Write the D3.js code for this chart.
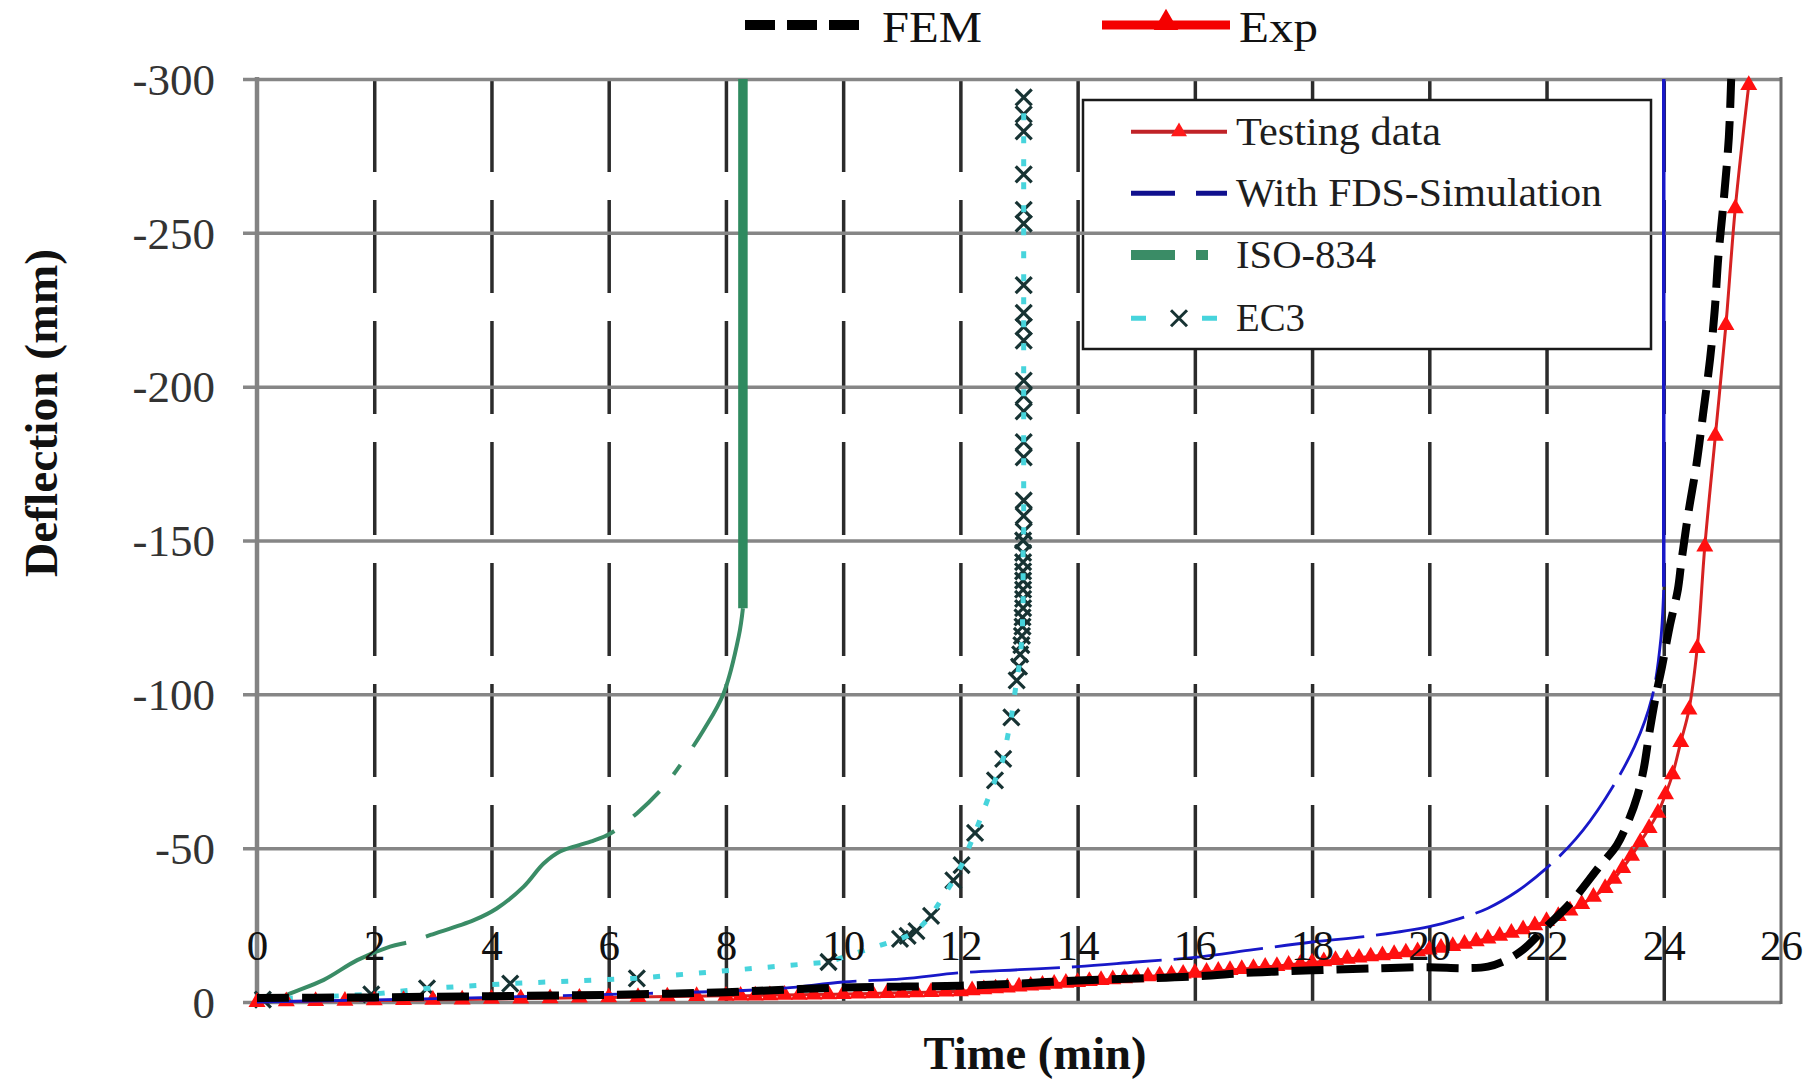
<!DOCTYPE html>
<html>
<head>
<meta charset="utf-8">
<script src="https://cdn.jsdelivr.net/npm/d3@7"></script>
<style>
html,body{margin:0;padding:0;background:#fff;}
svg{display:block;}
</style>
</head>
<body>
<svg id="chart" width="1816" height="1081"></svg>
<script>
// ---------------- data ----------------
const xTicks = [0, 2, 4, 6, 8, 10, 12, 14, 16, 18, 20, 22, 24, 26];
const yTicks = [0, -50, -100, -150, -200, -250, -300];
const xTitle = "Time (min)";
const yTitle = "Deflection (mm)";
const topLegendLabels = ["FEM", "Exp"];
const boxLegendLabels = ["Testing data", "With FDS-Simulation", "ISO-834", "EC3"];

// FEM (min, mm)
const femData = [
  [0, -1.3], [1, -1.4], [2, -1.5], [3, -1.7], [4, -1.9], [5, -2.1], [6, -2.3], [7, -2.7],
  [8, -3.2], [9, -4.0], [10, -4.7], [11, -5.0], [12, -5.3], [13, -6.0], [14, -7.0], [15, -7.6],
  [16, -8.3], [17, -9.6], [18, -10.3], [19, -10.9], [20, -11.3], [20.6, -11.0], [21, -11.5],
  [21.3, -13.5], [21.6, -17], [22, -24.5], [22.4, -32], [22.9, -44], [23.2, -51], [23.4, -59],
  [23.55, -67], [23.66, -76], [23.75, -87], [23.86, -99], [23.97, -109], [24.1, -122],
  [24.24, -134], [24.3, -143], [24.42, -159], [24.56, -175], [24.67, -191], [24.79, -209],
  [24.87, -225], [24.93, -242], [25.02, -260], [25.11, -281], [25.15, -300]
];

// Testing data (Exp)
const testData = [
  [0, 0], [0.5, -0.2], [1, -0.3], [1.5, -0.4], [2, -0.5], [2.5, -0.6], [3, -0.7], [3.5, -0.8],
  [4, -1.0], [4.5, -1.1], [5, -1.2], [5.5, -1.4], [6, -1.5], [6.5, -1.6], [7, -1.8], [7.5, -1.9],
  [8, -2.0], [8.25, -2.05], [8.5, -2.1], [8.75, -2.2], [9, -2.3], [9.25, -2.35], [9.5, -2.4],
  [9.75, -2.5], [10, -2.6], [10.25, -2.7], [10.5, -2.8], [10.75, -2.9], [11, -3.0], [11.25, -3.1],
  [11.5, -3.2], [11.75, -3.35], [12, -3.5], [12.2, -3.8], [12.4, -4.1], [12.6, -4.4], [12.8, -4.7],
  [13, -5.0], [13.2, -5.3], [13.4, -5.6], [13.6, -5.9], [13.8, -6.2], [14, -6.5], [14.2, -6.8],
  [14.4, -7.1], [14.6, -7.4], [14.8, -7.7], [15, -8.0], [15.2, -8.3], [15.4, -8.6], [15.6, -8.9],
  [15.8, -9.2], [16, -9.5], [16.2, -9.8], [16.4, -10.1], [16.6, -10.4], [16.8, -10.7], [17, -11.0],
  [17.2, -11.4], [17.4, -11.7], [17.6, -12.1], [17.8, -12.4], [18, -12.8], [18.2, -13.2],
  [18.4, -13.6], [18.6, -14.0], [18.8, -14.4], [19, -14.8], [19.2, -15.2], [19.4, -15.6],
  [19.6, -16.1], [19.8, -16.5], [20, -17.0], [20.2, -17.6], [20.4, -18.2], [20.6, -18.9],
  [20.8, -19.7], [21, -20.6], [21.2, -21.5], [21.4, -22.5], [21.6, -23.6], [21.8, -24.9],
  [22, -26.3], [22.2, -27.9], [22.4, -29.7], [22.6, -31.8], [22.8, -34.2], [23, -37.0],
  [23.15, -40], [23.3, -43.5], [23.45, -47.5], [23.6, -52], [23.75, -56.5], [23.9, -61.5],
  [24.03, -67.5], [24.15, -74], [24.29, -84.5], [24.43, -95], [24.57, -115], [24.7, -148],
  [24.88, -184], [25.06, -220], [25.22, -258], [25.45, -298]
];

// With FDS-Simulation (curve, then vertical run-away)
const fdsData = [
  [0, 0], [2, -0.7], [4, -1.5], [6, -2.5], [8, -3.5], [9, -4.5], [10, -6.5], [11, -7.5],
  [12, -9.5], [13, -10.5], [14, -11.5], [15, -13], [16, -14.5], [17, -17], [18, -19.5],
  [19, -21.5], [20, -24.5], [20.5, -27], [21, -30.5], [21.5, -36], [22, -43.5], [22.5, -53],
  [23, -66], [23.5, -83], [23.8, -99], [23.95, -118], [24.0, -135]
];
const fdsRunaway = [[24.0, -135], [24.0, -300]];

// ISO-834 (rising part) and its vertical run-away part
const isoData = [
  [0, 0], [0.3, -0.5], [0.57, -2.8], [1.14, -7.2], [1.71, -13.6], [2.27, -18], [2.62, -19.6],
  [2.96, -21.8], [3.7, -26.6], [4.09, -30.4], [4.55, -37.5], [4.89, -45], [5.17, -48.9],
  [5.69, -52.1], [6.03, -54.8], [6.48, -61.3], [6.94, -70], [7.28, -78.6], [7.62, -88.4],
  [7.96, -100.3], [8.22, -119], [8.29, -128]
];
const isoRunaway = [[8.29, -128], [8.29, -300]];

// EC3
const ec3Data = [
  [0.1, -0.8], [1.95, -2.5], [2.9, -4.4], [4.32, -6.0], [6.48, -7.7], [9.75, -13], [10.97, -20.5],
  [11.1, -21.5], [11.25, -23], [11.5, -28], [11.88, -39.5], [12.02, -44.5], [12.25, -55],
  [12.59, -72], [12.73, -79], [12.87, -92.5], [12.96, -104.5], [13.0, -109], [13.02, -113],
  [13.04, -116], [13.05, -119], [13.06, -122], [13.06, -125], [13.07, -128], [13.07, -131],
  [13.07, -134], [13.07, -137], [13.07, -140], [13.07, -143], [13.07, -146], [13.07, -150],
  [13.08, -153], [13.08, -158], [13.08, -163], [13.08, -177], [13.08, -182], [13.08, -192],
  [13.08, -197], [13.08, -202], [13.08, -215], [13.08, -219.5], [13.08, -224], [13.08, -233],
  [13.08, -253], [13.08, -257.5], [13.08, -269], [13.08, -283], [13.08, -288.5], [13.08, -294]
];

// ---------------- chart ----------------
const SERIF = "'Liberation Serif','Times New Roman',Times,serif";
const svg = d3.select("#chart");
const x = d3.scaleLinear().domain([0, 26]).range([257, 1781]);
const y = d3.scaleLinear().domain([0, -300]).range([1002, 79]);

// vertical dashed gridlines
const vGrid = svg.append("g")
  .attr("transform", `translate(0,${y(-300)})`)
  .call(d3.axisTop(x)
    .tickValues(xTicks.filter(d => d > 0 && d < 26))
    .tickSize(-(y(0) - y(-300)))
    .tickFormat(""));
vGrid.select(".domain").remove();
vGrid.selectAll(".tick line")
  .attr("stroke", "#2b2b2b")
  .attr("stroke-width", 3.5)
  .attr("stroke-dasharray", "93,28");

// legend box (white, hides vertical gridlines)
const lgX = 1083, lgY = 100, lgW = 568, lgH = 249;
svg.append("rect")
  .attr("x", lgX).attr("y", lgY).attr("width", lgW).attr("height", lgH)
  .attr("fill", "#fff").attr("stroke", "#1a1a1a").attr("stroke-width", 2.5);

// horizontal gridlines + y tick labels
const hGrid = svg.append("g")
  .attr("transform", `translate(${x(0)},0)`)
  .call(d3.axisLeft(y)
    .tickValues(yTicks)
    .tickSize(-(x(26) - x(0)))
    .tickFormat(d => String(d)));
hGrid.select(".domain").remove();
hGrid.selectAll(".tick line")
  .attr("x1", -14)
  .attr("stroke", "#868686")
  .attr("stroke-width", 3.5);
hGrid.selectAll(".tick text")
  .attr("x", -42)
  .attr("dy", "0.34em")
  .attr("fill", "#333")
  .style("font-family", SERIF)
  .style("font-size", "45px");

// plot borders (left axis, right border)
svg.append("line")
  .attr("x1", x(0)).attr("x2", x(0)).attr("y1", y(-300) - 2).attr("y2", y(0) + 2)
  .attr("stroke", "#838383").attr("stroke-width", 4.5);
svg.append("line")
  .attr("x1", x(26)).attr("x2", x(26)).attr("y1", y(-300) - 2).attr("y2", y(0) + 2)
  .attr("stroke", "#6a6a6a").attr("stroke-width", 3);

// ---- series ----
const line = d3.line().x(d => x(d[0])).y(d => y(d[1]));
const smooth = d3.line().x(d => x(d[0])).y(d => y(d[1])).curve(d3.curveCatmullRom.alpha(0.5));

// ISO-834
svg.append("path").datum(isoData)
  .attr("d", smooth)
  .attr("fill", "none").attr("stroke", "#3a8c66").attr("stroke-width", 4)
  .attr("stroke-dasharray", "162,21,220,24,36,22,12,22,700");
svg.append("path").datum(isoRunaway)
  .attr("d", line)
  .attr("fill", "none").attr("stroke", "#2f8a5f").attr("stroke-width", 9.5);

// EC3 markers + dotted line
const xMark = "M-8,-8L8,8M-8,8L8,-8";
svg.append("g").selectAll("path").data(ec3Data).join("path")
  .attr("transform", d => `translate(${x(d[0])},${y(d[1])})`)
  .attr("d", xMark)
  .attr("fill", "none").attr("stroke", "#173333").attr("stroke-width", 3.2);
svg.append("path").datum(ec3Data)
  .attr("d", line)
  .attr("fill", "none").attr("stroke", "#47d4dc").attr("stroke-width", 5)
  .attr("stroke-dasharray", "7,16");

// Testing data
svg.append("path").datum(testData)
  .attr("d", smooth)
  .attr("fill", "none").attr("stroke", "#d62222").attr("stroke-width", 3);
const tri = d3.symbol().type(d3.symbolTriangle).size(125);
svg.append("g").selectAll("path").data(testData).join("path")
  .attr("transform", d => `translate(${x(d[0])},${y(d[1])})`)
  .attr("d", tri)
  .attr("fill", "#ff1010");

// FDS simulation
svg.append("path").datum(fdsData)
  .attr("d", smooth)
  .attr("fill", "none").attr("stroke", "#1818c8").attr("stroke-width", 2.8)
  .attr("stroke-dasharray", "90,12");
svg.append("path").datum(fdsRunaway)
  .attr("d", line)
  .attr("fill", "none").attr("stroke", "#1818c8").attr("stroke-width", 3.5);

// FEM
svg.append("path").datum(femData)
  .attr("d", smooth)
  .attr("fill", "none").attr("stroke", "#000").attr("stroke-width", 8)
  .attr("stroke-dasharray", "32,13");

// x tick labels (inside the plot)
const xLab = svg.append("g")
  .attr("transform", "translate(0,960)")
  .call(d3.axisBottom(x).tickValues(xTicks).tickSize(0).tickPadding(0).tickFormat(d => String(d)));
xLab.select(".domain").remove();
xLab.selectAll(".tick text")
  .attr("y", 0).attr("dy", 0)
  .attr("fill", "#111")
  .style("font-family", SERIF)
  .style("font-size", "43px");

// ---- box legend ----
const rowY = [131.7, 193.3, 255, 318.3];
const sw0 = 1131, sw1 = 1227, swMid = 1179, txtX = 1236;
const lg = svg.append("g");
// Testing data
lg.append("line").attr("x1", sw0).attr("x2", sw1).attr("y1", rowY[0]).attr("y2", rowY[0])
  .attr("stroke", "#c02328").attr("stroke-width", 4);
lg.append("path").attr("transform", `translate(${swMid},${rowY[0]})`)
  .attr("d", d3.symbol().type(d3.symbolTriangle).size(110)).attr("fill", "#ff1a1a");
// FDS
lg.append("line").attr("x1", sw0).attr("x2", sw1).attr("y1", rowY[1]).attr("y2", rowY[1])
  .attr("stroke", "#10108e").attr("stroke-width", 5).attr("stroke-dasharray", "44,21");
// ISO
lg.append("line").attr("x1", sw0).attr("x2", sw1).attr("y1", rowY[2]).attr("y2", rowY[2])
  .attr("stroke", "#3a8c66").attr("stroke-width", 10).attr("stroke-dasharray", "44,21,12,100");
// EC3
lg.append("line").attr("x1", sw0).attr("x2", sw1).attr("y1", rowY[3]).attr("y2", rowY[3])
  .attr("stroke", "#47d4dc").attr("stroke-width", 5).attr("stroke-dasharray", "15,56,15,20");
lg.append("path").attr("transform", `translate(${swMid},${rowY[3]})`)
  .attr("d", "M-8,-8L8,8M-8,8L8,-8").attr("fill", "none").attr("stroke", "#173333").attr("stroke-width", 3);
const lgLens = [205, 366, 140, 69];
lg.selectAll("text").data(boxLegendLabels).join("text")
  .attr("x", txtX).attr("y", (d, i) => rowY[i] + 13)
  .attr("textLength", (d, i) => lgLens[i]).attr("lengthAdjust", "spacingAndGlyphs")
  .attr("fill", "#1e1e1e")
  .style("font-family", SERIF).style("font-size", "41px")
  .text(d => d);

// ---- top legend ----
const tl = svg.append("g");
tl.append("line").attr("x1", 745).attr("x2", 862).attr("y1", 25).attr("y2", 25)
  .attr("stroke", "#000").attr("stroke-width", 10).attr("stroke-dasharray", "30,12");
tl.append("line").attr("x1", 1102).attr("x2", 1230).attr("y1", 25).attr("y2", 25)
  .attr("stroke", "#f40000").attr("stroke-width", 9);
tl.append("path").attr("transform", "translate(1166,23)")
  .attr("d", d3.symbol().type(d3.symbolTriangle).size(260)).attr("fill", "#f40000");
const tlX = [882, 1239], tlLen = [100, 79];
tl.selectAll("text").data(topLegendLabels).join("text")
  .attr("x", (d, i) => tlX[i]).attr("y", 42)
  .attr("textLength", (d, i) => tlLen[i]).attr("lengthAdjust", "spacingAndGlyphs")
  .attr("fill", "#111")
  .style("font-family", SERIF).style("font-size", "44px")
  .text(d => d);

// ---- axis titles ----
svg.append("text")
  .attr("transform", "translate(41,413) rotate(-90)")
  .attr("text-anchor", "middle").attr("dominant-baseline", "central")
  .attr("textLength", 328).attr("lengthAdjust", "spacingAndGlyphs")
  .style("font-family", SERIF).style("font-size", "46px").style("font-weight", "bold")
  .attr("fill", "#111")
  .text(yTitle);
svg.append("text")
  .attr("x", 1035).attr("y", 1069)
  .attr("text-anchor", "middle")
  .attr("textLength", 223).attr("lengthAdjust", "spacingAndGlyphs")
  .style("font-family", SERIF).style("font-size", "46px").style("font-weight", "bold")
  .attr("fill", "#111")
  .text(xTitle);
</script>
</body>
</html>
